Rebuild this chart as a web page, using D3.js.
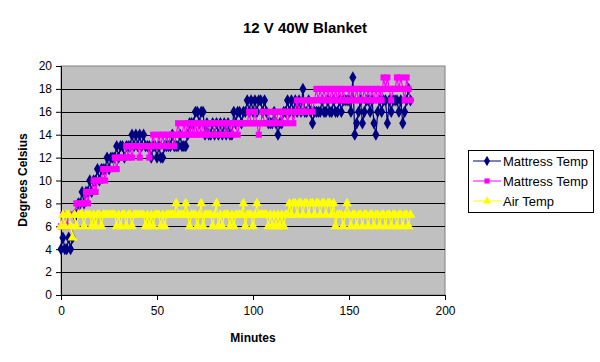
<!DOCTYPE html>
<html>
<head>
<meta charset="utf-8">
<script src="https://cdn.jsdelivr.net/npm/d3@7"></script>
<style>
  body { margin: 0; background: #fff; }
  svg { font-family: "Liberation Sans", Arial, sans-serif; }
</style>
</head>
<body>
<div id="chart"></div>
<script>
// minutes 0..182, one reading a minute
var mattress1 = [
  4,5,4,4,5, 4,5,7,7,8, 8,9,8,9,9, 10,9,10,10,11, 10,11,11,11,12, 11,12,12,12,13,
  12,13,13,12,13, 13,13,14,13,14, 13,14,13,14,13, 13,13,12,13,13, 12,13,12,12,13, 13,13,13,14,13,
  13,13,14,13,13, 13,14,15,15,15, 16,16,15,16,16, 14,15,14,14,15, 14,15,14,15,14, 15,14,15,14,14,
  16,15,16,16,15, 16,16,17,16,17, 16,17,16,17,17, 16,17,16,15,15, 15,16,15,14,15, 15,16,16,17,16,
  17,16,17,16,17, 16,18,16,16,17, 16,15,16,16,16, 16,17,16,16,17, 16,16,17,16,16, 17,16,17,17,17,
  17,16,19,14,15, 16,17,15,16,17, 17,16,17,15,14, 16,17,16,17,17, 15,17,16,17,17, 17,16,17,15,16,
  17,18,17
];
var mattress2 = [
  6,7,7,6,7, 7,7,7,8,7, 8,8,8,9,8, 9,9,10,9,10, 10,10,11,10,11, 11,11,11,12,11,
  12,12,12,12,13, 12,13,12,13,13, 13,12,13,13,13, 13,12,13,14,13, 13,14,13,14,13, 14,13,14,14,13,
  14,15,14,14,15, 14,15,14,15,14, 15,14,15,14,15, 14,15,14,15,15, 14,15,15,14,15, 15,14,15,15,14,
  15,15,14,15,15, 15,15,15,16,15, 15,16,15,14,15, 16,15,15,16,15, 15,16,15,16,16, 15,16,16,15,16,
  16,15,16,17,16, 16,17,16,16,17, 17,16,17,18,17, 18,17,18,17,18, 17,18,17,18,17, 18,17,18,17,17,
  18,17,18,17,18, 17,18,17,18,17, 18,17,18,17,18, 17,18,17,19,18, 19,18,17,18,18, 19,18,19,18,17,
  19,18,17
];
var airTemp = [
  6,7,6,7,7, 6,5,7,6,7, 7,7,6,7,7, 7,6,7,6,7, 7,6,7,7,7, 7,7,7,7,6,
  7,6,7,7,6, 7,7,6,7,7, 7,7,7,7,6, 7,6,7,6,7, 7,7,6,7,6, 7,7,7,7,7,
  8,7,7,7,7, 8,7,6,7,7, 7,6,7,8,6, 7,7,7,7,6, 7,8,6,7,6, 7,7,7,6,7,
  6,7,7,7,7, 8,6,7,7,7, 6,7,8,7,7, 7,7,7,6,7, 6,7,6,7,6, 7,6,7,7,8,
  7,8,8,7,8, 8,7,8,8,7, 8,8,7,8,8, 7,8,8,7,8, 8,7,8,6,7, 7,7,6,7,8,
  7,6,7,7,6, 7,7,6,7,7, 6,7,7,6,7, 7,6,7,7,6, 7,7,6,7,7, 6,7,7,6,7,
  7,6,7
];
var seriesNames = ["Mattress Temp", "Mattress Temp", "Air Temp"];
var seriesColors = ["#000080", "#ff00ff", "#ffff00"];
var markerTypes = [d3.symbolDiamond, d3.symbolSquare, d3.symbolTriangle];
var markerSizes = [44, 38, 42];
var xTicks = [0, 50, 100, 150, 200];
var yTicks = [0, 2, 4, 6, 8, 10, 12, 14, 16, 18, 20];

var W = 600, H = 362;
var plot = { left: 61, top: 66, right: 445, bottom: 295 };

var svg = d3.select("#chart").append("svg").attr("width", W).attr("height", H);

var x = d3.scaleLinear().domain([0, 200]).range([plot.left, plot.right]);
var y = d3.scaleLinear().domain([0, 20]).range([plot.bottom, plot.top]);

// plot area
svg.append("rect")
  .attr("x", plot.left).attr("y", plot.top)
  .attr("width", plot.right - plot.left).attr("height", plot.bottom - plot.top)
  .attr("fill", "#c0c0c0").attr("stroke", "#808080");

// gridlines
svg.append("g").selectAll("line")
  .data(yTicks.filter(function (d) { return d > 0 && d < 20; }))
  .enter().append("line")
  .attr("x1", plot.left).attr("x2", plot.right)
  .attr("y1", function (d) { return Math.round(y(d)) + 0.5; })
  .attr("y2", function (d) { return Math.round(y(d)) + 0.5; })
  .attr("stroke", "#000").attr("stroke-width", 1);

// axes
var xAxis = svg.append("g").attr("transform", "translate(0," + plot.bottom + ")")
  .call(d3.axisBottom(x).tickValues(xTicks).tickSize(5).tickPadding(6));
var yAxis = svg.append("g").attr("transform", "translate(" + plot.left + ",0)")
  .call(d3.axisLeft(y).tickValues(yTicks).tickSize(5).tickPadding(4));
[xAxis, yAxis].forEach(function (a) {
  a.selectAll("path,line").attr("stroke", "#000");
  a.selectAll("text").attr("font-size", "12px").attr("fill", "#000")
    .attr("font-family", "Liberation Sans, Arial, sans-serif");
});

// series
var allSeries = [mattress1, mattress2, airTemp];
var line = d3.line()
  .x(function (d, i) { return x(i); })
  .y(function (d) { return y(d); });

allSeries.forEach(function (vals, k) {
  var g = svg.append("g");
  g.append("path").datum(vals)
    .attr("d", line).attr("fill", "none")
    .attr("stroke", seriesColors[k]).attr("stroke-width", 1.2);
  g.selectAll("path.m").data(vals).enter().append("path")
    .attr("class", "m")
    .attr("transform", function (d, i) { return "translate(" + x(i) + "," + y(d) + ")"; })
    .attr("d", d3.symbol().type(markerTypes[k]).size(markerSizes[k]))
    .attr("fill", seriesColors[k]);
});

// titles
svg.append("text").attr("x", 305).attr("y", 33).attr("text-anchor", "middle")
  .attr("font-size", "15px").attr("font-weight", "bold").text("12 V 40W Blanket");
svg.append("text").attr("x", 253).attr("y", 342).attr("text-anchor", "middle")
  .attr("font-size", "12px").attr("font-weight", "bold").text("Minutes");
svg.append("text").attr("transform", "translate(27,180) rotate(-90)")
  .attr("text-anchor", "middle")
  .attr("font-size", "12px").attr("font-weight", "bold").text("Degrees Celsius");

// legend
var lg = svg.append("g");
lg.append("rect").attr("x", 468.5).attr("y", 150.5).attr("width", 125).attr("height", 62)
  .attr("fill", "#fff").attr("stroke", "#000");
seriesNames.forEach(function (name, k) {
  var ly = 161 + k * 20;
  lg.append("line").attr("x1", 473).attr("x2", 501).attr("y1", ly).attr("y2", ly)
    .attr("stroke", seriesColors[k]);
  lg.append("path").attr("transform", "translate(487," + ly + ")")
    .attr("d", d3.symbol().type(markerTypes[k]).size(markerSizes[k] * 0.7))
    .attr("fill", seriesColors[k]);
  lg.append("text").attr("x", 503).attr("y", ly + 4.5).attr("font-size", "13px").text(name);
});
</script>
</body>
</html>
